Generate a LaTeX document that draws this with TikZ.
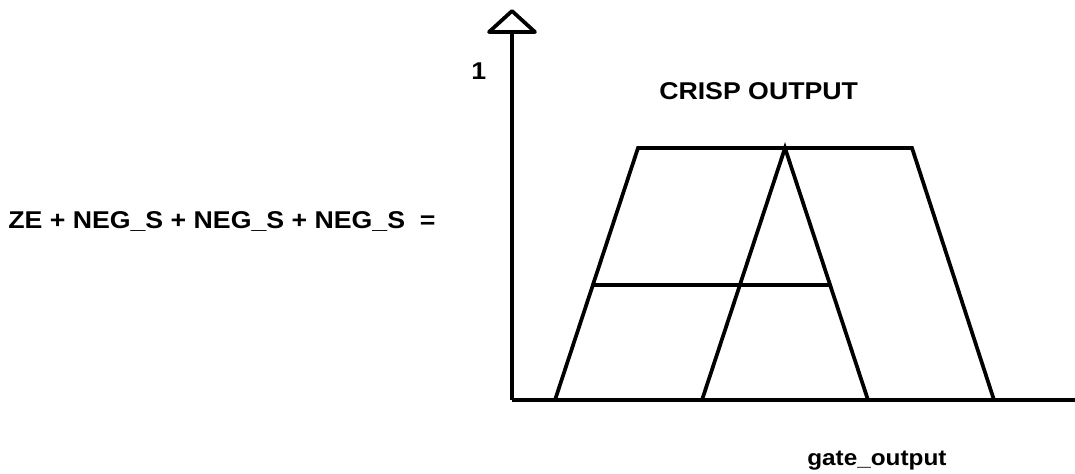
\documentclass[tikz,border=0pt]{standalone}
\usepackage{fontspec}
\usepackage{tikz}
\usetikzlibrary{arrows.meta,positioning}
\newfontfamily\labelfont{Liberation Sans}[FakeStretch=1.1]
\tikzset{
  txt/.style={font=\labelfont\bfseries\fontsize{18.2}{20}\selectfont, inner sep=0pt},
  edge/.style={line width=2.8pt, line join=miter}
}

\begin{document}
\begin{tikzpicture}[x=0.75pt,y=0.75pt]
\useasboundingbox (0,0) rectangle (1075,474);
% axes
\coordinate (o) at (512,74);
\coordinate (ybase) at (512,442);
\coordinate (xend) at (1075,74);
\draw[edge] (o) -- (ybase);
\draw[edge, line join=round] (ybase) -- (489,442) -- (512,463) -- (535,442) -- cycle;
\draw[edge] (o) -- (xend);
% membership sets
\coordinate (a1) at (555,74);
\coordinate (a2) at (638,326);
\coordinate (a3) at (912,326);
\coordinate (a4) at (994,74);
\coordinate (b1) at (702,74);
\coordinate (b2) at (785,326);
\coordinate (b3) at (868,74);
\coordinate (c1) at (594,189);
\coordinate (c2) at (829,189);
\draw[edge] (a1) -- (a2) -- (a3) -- (a4);
\draw[edge] (b1) -- (b2) -- (b3);
\draw[edge] (c1) -- (c2);
% labels
\node[txt, anchor=base west] (sum) at (8,245) {ZE + NEG\_S + NEG\_S + NEG\_S\ \ =};
\node[txt, anchor=base west] (crisp) at (659,374) {CRISP OUTPUT};
\node[txt, anchor=base west] (one) at (471,394) {1};
\node[txt, anchor=base west, font=\labelfont\bfseries\fontsize{16.6}{19}\selectfont] (xlabel) at (807,8) {gate\_output};
\end{tikzpicture}
\end{document}
